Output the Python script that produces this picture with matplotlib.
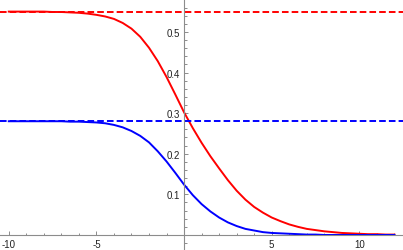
import matplotlib
matplotlib.use("Agg")
import matplotlib.pyplot as plt
from matplotlib.ticker import MultipleLocator, FixedLocator

# values
x = [-10.0, -9.5, -9.0, -8.5, -8.0, -7.5, -7.0, -6.5, -6.0, -5.5, -5.0,
     -4.5, -4.0, -3.5, -3.0, -2.5, -2.0, -1.5, -1.0, -0.5, 0.0,
     0.5, 1.0, 1.5, 2.0, 2.5, 3.0, 3.5, 4.0, 4.5, 5.0,
     5.5, 6.0, 6.5, 7.0, 7.5, 8.0, 8.5, 9.0, 9.5, 10.0,
     10.5, 11.0, 11.5, 12.0]
red = [0.550, 0.550, 0.550, 0.550, 0.550, 0.549, 0.549, 0.548, 0.547, 0.545, 0.542,
       0.538, 0.532, 0.522, 0.508, 0.488, 0.461, 0.428, 0.389, 0.346, 0.302,
       0.263, 0.227, 0.194, 0.164, 0.135, 0.109, 0.087, 0.069, 0.055, 0.043,
       0.034, 0.026, 0.020, 0.015, 0.012, 0.009, 0.007, 0.005, 0.004, 0.003,
       0.002, 0.002, 0.001, 0.001]
blue = [0.280, 0.280, 0.280, 0.280, 0.280, 0.280, 0.280, 0.279, 0.279, 0.278, 0.277,
        0.275, 0.271, 0.265, 0.256, 0.244, 0.228, 0.206, 0.181, 0.153, 0.124,
        0.098, 0.076, 0.058, 0.043, 0.031, 0.022, 0.015, 0.011, 0.007, 0.005,
        0.004, 0.003, 0.002, 0.001, 0.001, 0.000, 0.000, 0.000, 0.000, 0.000,
        0.000, 0.000, 0.000, 0.000]
red_level = 0.55
blue_level = 0.28

x_major = [-10, -5, 5, 10]
y_major = [0.1, 0.2, 0.3, 0.4, 0.5]

plt.rcParams['font.family'] = ['Liberation Sans', 'DejaVu Sans']

fig = plt.figure(figsize=(4.03, 2.51), dpi=100)
ax = fig.add_axes([0, 0, 1, 1])

ax.plot(x, red, color='#ff0000', lw=1.4)
ax.plot(x, blue, color='#0000ff', lw=1.4)
ax.axhline(red_level, color='#ff0000', lw=1.4, dashes=(3.4, 1.6))
ax.axhline(blue_level, color='#0000ff', lw=1.4, dashes=(3.4, 1.6))

ax.set_xlim(-10.5, 12.49)
ax.set_ylim(-0.037, 0.581)

for s in ['top', 'right']:
    ax.spines[s].set_visible(False)
ax.spines['left'].set_position(('data', 0))
ax.spines['bottom'].set_position(('data', 0))
for s in ['left', 'bottom']:
    ax.spines[s].set_color('#8c8c8c')
    ax.spines[s].set_linewidth(0.8)

ax.xaxis.set_major_locator(FixedLocator(x_major))
ax.xaxis.set_minor_locator(MultipleLocator(1))
ax.yaxis.set_major_locator(FixedLocator(y_major))
ax.yaxis.set_minor_locator(MultipleLocator(0.02))
ax.set_xticklabels([f'{v:d}' for v in x_major])
ax.set_yticklabels([f'{v:.1f}' for v in y_major])

ax.tick_params(which='both', direction='in', color='#8c8c8c', width=0.7,
               labelsize=7, labelcolor='#222222')
ax.tick_params(which='major', length=3.2, pad=3)
ax.tick_params(which='minor', length=1.8)
ax.patch.set_visible(False)

fig.savefig('out.png', dpi=100)
